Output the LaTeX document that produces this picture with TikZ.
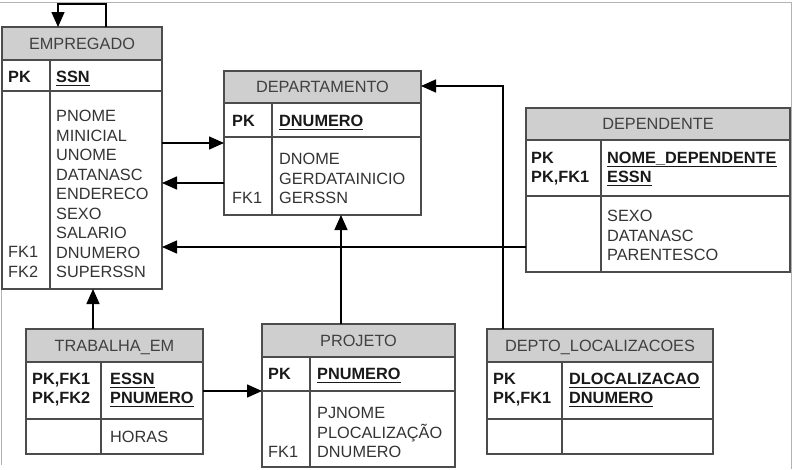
\documentclass[tikz,border=0pt]{standalone}
\usepackage{fontspec}
\setmainfont{Liberation Sans}
\usetikzlibrary{arrows.meta,fit,calc}
\newcommand\keyul[1]{\setbox0\hbox{#1}\rlap{\vrule width\wd0 height -2.4pt depth 3.9pt}\box0}
\tikzset{
  tline/.style={draw=black!70, line width=1.2pt},
  hdr/.style={fill=black!19},
  tbl/.style={draw=black!70, line width=1.2pt, rectangle, inner sep=0pt, outer sep=0pt},
  title/.style={font=\fontsize{16.3pt}{19.5pt}\selectfont, text=black!75, inner sep=0pt, text height=11.7pt, text depth=0pt},
  attr/.style={font=\fontsize{16.3pt}{19.5pt}\selectfont, text=black!80, inner sep=0pt, align=left, anchor=north west, yshift=-1.5pt},
  keys/.style={font=\fontsize{16.3pt}{19pt}\selectfont\bfseries, text=black!90, inner sep=0pt, align=left, anchor=north west, yshift=-1.5pt},
  conn/.style={draw=black, line width=1.5pt, -{Triangle[length=15pt,width=13pt]}},
}
\newcommand\erbox[9]{%
  \fill[hdr] (#2,#3) rectangle (#4,#6);
  \draw[tline] (#2,#6) -- (#4,#6) (#2,#7) -- (#4,#7) (#8,#6) -- (#8,#5);
  \node[tbl, fit={(#2,#3) (#4,#5)}] (#1) {};
  \node[title] (#1-title) at ($(#2,#3)!0.5!(#4,#6)$) {#9};
}
\begin{document}
\begin{tikzpicture}[x=1pt,y=-1pt]
\useasboundingbox (0,0) rectangle (793,469);
\draw[black!30, line width=1pt] (1,27) -- (1,465) (0,2) -- (791,2) -- (791,469);

% EMPREGADO
\erbox{emp}{2}{27}{162}{289}{60}{91}{50}{EMPREGADO}
\node[keys] (emp-pk) at (8,69.5) {PK};
\node[keys] (emp-k) at (56,69.5) {\keyul{SSN}};
\node[attr] (emp-a) at (56,108.5) {PNOME\\MINICIAL\\UNOME\\DATANASC\\ENDERECO\\SEXO\\SALARIO\\DNUMERO\\SUPERSSN};
\node[attr] (emp-fk) at (8,245) {FK1\\FK2};

% DEPARTAMENTO
\erbox{dep}{224}{71}{421}{215}{103}{137}{272}{DEPARTAMENTO}
\node[keys] (dep-pk) at (232,113.5) {PK};
\node[keys] (dep-k) at (279,113.5) {\keyul{DNUMERO}};
\node[attr] (dep-a) at (279,151.5) {DNOME\\GERDATAINICIO\\GERSSN};
\node[attr] (dep-fk) at (232,190.5) {FK1};

% DEPENDENTE
\erbox{dpd}{526}{108}{790}{272}{140}{196}{601}{DEPENDENTE}
\node[keys] (dpd-pk) at (531,150.5) {PK\\PK,FK1};
\node[keys] (dpd-k) at (607,150.5) {\keyul{NOME\_DEPENDENTE}\\\keyul{ESSN}};
\node[attr] (dpd-a) at (607,208.5) {SEXO\\DATANASC\\PARENTESCO};

% TRABALHA_EM
\erbox{trab}{26}{329}{203}{454}{362}{419}{101}{TRABALHA\_EM}
\node[keys] (trab-pk) at (32,371.5) {PK,FK1\\PK,FK2};
\node[keys] (trab-k) at (110,371.5) {\keyul{ESSN}\\\keyul{PNUMERO}};
\node[attr] (trab-a) at (110,429.5) {HORAS};

% PROJETO
\erbox{proj}{262}{324}{455}{467}{357}{391}{310}{PROJETO}
\node[keys] (proj-pk) at (268,366.5) {PK};
\node[keys] (proj-k) at (317,366.5) {\keyul{PNUMERO}};
\node[attr] (proj-a) at (317,405.5) {PJNOME\\PLOCALIZAÇÃO\\DNUMERO};
\node[attr] (proj-fk) at (268,444.5) {FK1};

% DEPTO_LOCALIZACOES
\erbox{dl}{487}{329}{713}{454}{362}{419}{562}{DEPTO\_LOCALIZACOES}
\node[keys] (dl-pk) at (493,371.5) {PK\\PK,FK1};
\node[keys] (dl-k) at (569,371.5) {\keyul{DLOCALIZACAO}\\\keyul{DNUMERO}};

% connectors
\draw[conn] (emp.north -| 106,0) -- (106,4) -- (58,4) -- (emp.north -| 58,0);
\draw[conn] (emp.east |- 0,143) -- (dep.west |- 0,143);
\draw[conn] (dep.west |- 0,183) -- (emp.east |- 0,183);
\draw[conn] (dpd.west |- 0,247) -- (emp.east |- 0,247);
\draw[conn] (trab.north -| 93,0) -- (emp.south -| 93,0);
\draw[conn] (trab.east |- 0,391) -- (proj.west |- 0,391);
\draw[conn] (proj.north -| 341,0) -- (dep.south -| 341,0);
\draw[conn] (dl.north -| 503,0) -- (503,86) -- (dep.east |- 0,86);
\end{tikzpicture}
\end{document}
